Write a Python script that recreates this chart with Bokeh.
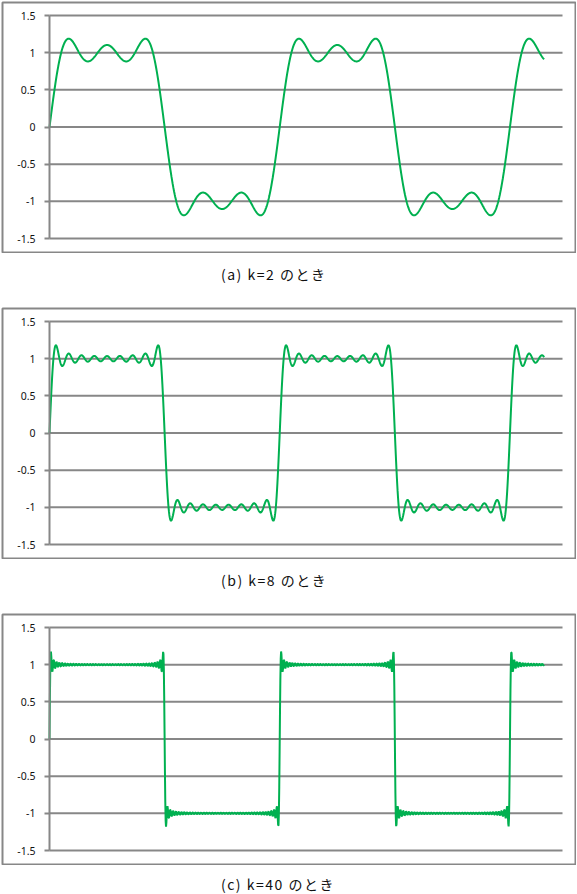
import numpy as np
from bokeh.plotting import figure
from bokeh.models import Range1d, Div, FixedTicker, LinearAxis
from bokeh.layouts import column
from bokeh.embed import file_html
from bokeh.resources import INLINE

# ---- data ----
K_VALUES = [2, 8, 40]                      # highest harmonic index n (terms n = 0..k)
CAPTIONS = ["(a) k=2 のとき", "(b) k=8 のとき", "(c) k=40 のとき"]
X_START = 0.0
X_STOP = 13.5
X_STEP = 0.01
X_AXIS_MIN = 0
X_AXIS_MAX = 14
Y_AXIS_MIN = -1.5
Y_AXIS_MAX = 1.5
Y_TICKS = [-1.5, -1, -0.5, 0, 0.5, 1, 1.5]
Y_TICK_LABELS = ["-1.5", "-1", "-0.5", "0", "0.5", "1", "1.5"]

x_vals = np.arange(X_START, X_STOP + X_STEP / 2, X_STEP)


def partial_sum(k):
    s = np.zeros_like(x_vals)
    for n in range(k + 1):
        m = 2 * n + 1
        s += np.sin(m * x_vals) / m
    return 4 / np.pi * s


GRAY = "#878787"
GREEN = "#00B050"

# ---- layout (pixels inside each chart canvas) ----
W, H = 575, 252
MB = 1                                  # frame inset; outline drawn on frame edge = chart border
PLOT_L, PLOT_R, PLOT_T, PLOT_B = 48, 561, 14, 237   # plot area in canvas px
FR_L, FR_R, FR_T, FR_B = MB, W - MB, MB, H - MB
ppx = (PLOT_R - PLOT_L) / (X_AXIS_MAX - X_AXIS_MIN)
ppy = (PLOT_B - PLOT_T) / (Y_AXIS_MAX - Y_AXIS_MIN)
xr = (X_AXIS_MIN - (PLOT_L - FR_L) / ppx, X_AXIS_MAX + (FR_R - PLOT_R) / ppx)
yr = (Y_AXIS_MIN - (FR_B - PLOT_B) / ppy, Y_AXIS_MAX + (PLOT_T - FR_T) / ppy)

children = []
for i, (k, cap) in enumerate(zip(K_VALUES, CAPTIONS)):
    p = figure(width=W, height=H, output_backend="svg", toolbar_location=None,
               x_range=Range1d(*xr), y_range=Range1d(*yr),
               x_axis_type=None, y_axis_type=None,
               min_border_left=MB, min_border_right=MB,
               min_border_top=MB, min_border_bottom=MB)
    p.outline_line_color = GRAY
    p.outline_line_width = 2
    p.background_fill_color = "white"
    p.border_fill_color = "white"

    # horizontal gridlines across the plot area
    p.segment(x0=[X_AXIS_MIN] * len(Y_TICKS), x1=[X_AXIS_MAX] * len(Y_TICKS),
              y0=Y_TICKS, y1=Y_TICKS, line_color=GRAY, line_width=2)

    yaxis = LinearAxis(fixed_location=X_AXIS_MIN, bounds=(Y_AXIS_MIN, Y_AXIS_MAX),
                       ticker=FixedTicker(ticks=Y_TICKS))
    yaxis.major_label_overrides = {t: l for t, l in zip(Y_TICKS, Y_TICK_LABELS)}
    yaxis.minor_tick_line_color = None
    yaxis.axis_line_color = GRAY
    yaxis.axis_line_width = 2
    yaxis.major_tick_line_color = GRAY
    yaxis.major_tick_line_width = 2
    yaxis.major_tick_out = 5
    yaxis.major_tick_in = 0
    yaxis.major_label_standoff = 9
    yaxis.major_label_text_font = "Noto Sans"
    yaxis.major_label_text_font_size = "10.5px"
    yaxis.major_label_text_color = "#111111"
    p.add_layout(yaxis, "left")

    p.line(x_vals, partial_sum(k), line_color=GREEN, line_width=2)
    children.append(p)

    last = i == len(K_VALUES) - 1
    d = Div(text=('<div style="margin-left:220px;margin-top:%dpx;font-family:\'Noto Sans CJK JP\';'
                  'font-size:14px;letter-spacing:1.5px;line-height:16px;color:#111;white-space:nowrap">%s</div>')
            % (11 if last else 13, cap),
            width=W, height=28 if last else 54, margin=0)
    children.append(d)

layout = column(*children, spacing=0,
                styles={"margin-left": "1px", "margin-top": "1px"})

open("out.html", "w").write(file_html(layout, INLINE))
